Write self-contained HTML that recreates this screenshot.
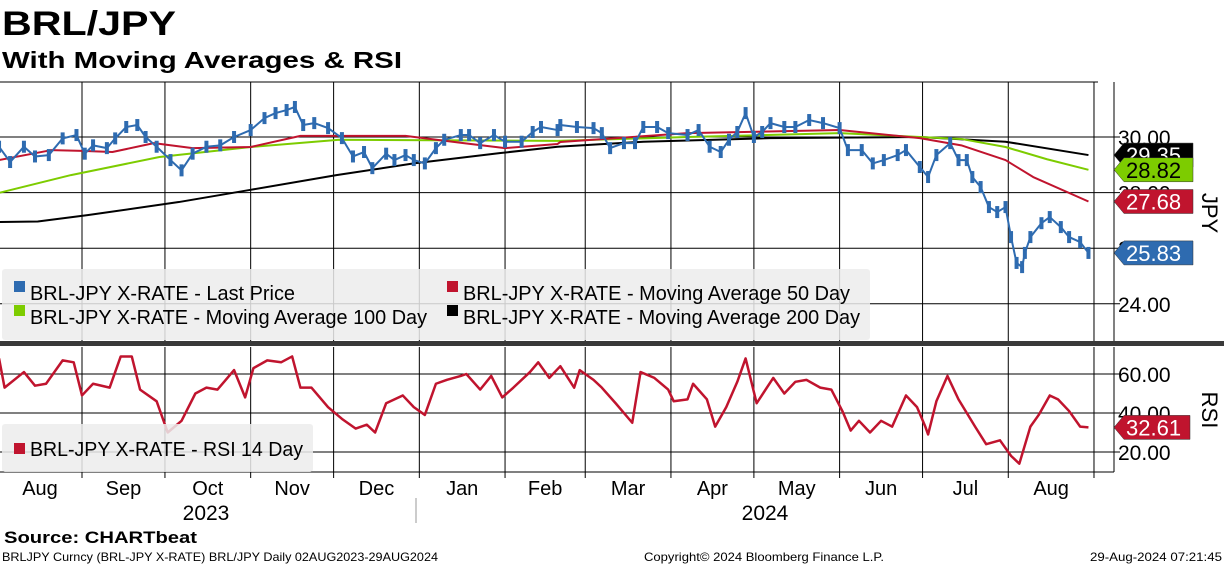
<!DOCTYPE html>
<html><head><meta charset="utf-8"><style>
body{margin:0;background:#fff;font-family:"Liberation Sans",sans-serif;}
#wrap{position:relative;width:1224px;height:566px;overflow:hidden;}
svg text{font-family:"Liberation Sans",sans-serif;}
</style></head><body>
<div id="wrap">
<svg id="svg" width="1224" height="566">
<text x="2" y="35" font-size="34" font-weight="bold" textLength="174" lengthAdjust="spacingAndGlyphs">BRL/JPY</text>
<text x="2" y="68" font-size="23" font-weight="bold" textLength="400" lengthAdjust="spacingAndGlyphs">With Moving Averages &amp; RSI</text>
<g id="grid"></g>
<g id="series"></g>
<g id="axes"></g>
<text x="4" y="543" font-size="17" font-weight="bold" textLength="193" lengthAdjust="spacingAndGlyphs">Source: CHARTbeat</text>
<text x="2" y="561" font-size="12" textLength="436" lengthAdjust="spacingAndGlyphs">BRLJPY Curncy (BRL-JPY X-RATE) BRL/JPY  Daily 02AUG2023-29AUG2024</text>
<text x="644" y="561" font-size="12" textLength="240" lengthAdjust="spacingAndGlyphs">Copyright© 2024 Bloomberg Finance L.P.</text>
<text x="1090" y="561" font-size="12" textLength="132" lengthAdjust="spacingAndGlyphs">29-Aug-2024 07:21:45</text>
</svg>
</div>
<script>
// day index = days since 1 Aug 2023
const priceDays=[1,5,10,14,19,24,29,32,35,40,43,47,51,54,58,63,67,71,76,81,86,92,97,101,105,108,111,115,120,125,129,133,136,141,144,148,151,155,159,162,168,171,175,180,184,190,194,197,203,204,210,216,219,222,227,231,234,239,243,250,254,258,262,265,268,271,274,277,280,285,289,294,299,305,308,313,317,321,326,329,334,337,340,345,348,351,353,356,359,362,365,367,369,371,372,374,378,381,385,388,392,395];
const priceVals=[29.65,29.1,29.65,29.3,29.35,29.95,30.07,29.4,29.7,29.6,29.95,30.36,30.43,30.0,29.65,29.17,28.8,29.4,29.65,29.7,30.0,30.25,30.68,30.86,30.97,31.08,30.43,30.5,30.32,29.96,29.3,29.46,28.88,29.4,29.17,29.35,29.17,29.05,29.6,29.9,30.07,30.07,29.78,30.07,29.83,29.83,30.18,30.36,30.25,30.43,30.36,30.32,30.14,29.6,29.78,29.78,30.36,30.36,30.14,30.07,30.25,29.65,29.46,29.9,30.18,30.86,30.0,30.18,30.5,30.36,30.36,30.61,30.5,30.32,29.53,29.53,29.05,29.17,29.35,29.53,28.92,28.56,29.35,29.78,29.17,29.17,28.56,28.2,27.48,27.3,27.48,26.4,25.47,25.32,25.83,26.4,26.9,27.12,26.76,26.4,26.22,25.83];
const ma50Days=[1,20,31,42,57,71,92,110,148,169,184,203,204,250,305,334,349,365,375,395];
const ma50Vals=[29.17,29.53,29.5,29.46,29.78,29.6,29.64,30.04,30.04,29.78,29.6,29.75,29.82,30.14,30.25,29.96,29.7,29.17,28.56,27.68];
const ma100Days=[1,27,59,92,124,203,250,305,334,349,365,380,395];
const ma100Vals=[27.99,28.63,29.28,29.64,29.9,29.86,30.0,30.14,30.0,29.93,29.64,29.2,28.82];
const ma200Days=[1,15,33,66,92,123,151,182,203,234,280,334,365,395];
const ma200Vals=[26.94,26.96,27.19,27.66,28.1,28.63,29.05,29.42,29.65,29.83,29.96,30.0,29.83,29.35];
const rsiDays=[1,3,10,14,18,24,28,31,35,41,45,49,52,58,62,67,72,76,80,86,90,93,98,103,107,110,114,120,125,130,134,137,141,147,151,155,159,163,168,170,175,179,183,187,193,196,200,204,209,211,216,219,224,230,233,238,243,245,250,252,257,260,264,268,271,275,281,285,289,293,298,302,306,309,312,316,320,324,329,333,336,337,340,344,348,354,358,363,367,370,374,377,381,384,388,392,395];
const rsiVals=[68,53,61,54,55,67,66,49,55,53,69,69,52,46,30,36,50,53,52,62,48,63,67,66,69,53,53,43,37,32,34,30,45,49,43,39,55,57,59,60,52,59,48,53,61,66,58,64,53,62,57,53,45,35,61,58,52,46,47,55,47,33,43,56,68,45,58,50,56,57,53,52,41,31,36,30,36,33,49,43,33,29,46,59,47,33,24,26,18,14,33,39,49,47,41,33,32.61];
const priceTicks=[24,26,28,30];
const rsiTicks=[20,40,60];
const monthNames=['Aug','Sep','Oct','Nov','Dec','Jan','Feb','Mar','Apr','May','Jun','Jul','Aug'];
const monthStartDays=[0,31,61,92,122,153,184,213,244,274,305,335,366,397];
const lastVals={ma200:29.35,ma100:28.82,ma50:27.68,price:25.83,rsi:32.61};

const NS='http://www.w3.org/2000/svg';
const X0=82, PX=2.765;
const x=d=>X0+(d-31)*PX;
const yP=v=>137-(v-30)*27.8;
const yR=v=>374-(v-60)*39/20;
const PT=82,PB=341,RT=347,RB=472,AX=1114;
function mk(tag,attrs,parent){const e=document.createElementNS(NS,tag);for(const k in attrs)e.setAttribute(k,attrs[k]);(parent||document.getElementById('series')).appendChild(e);return e;}
const grid=document.getElementById('grid'),axes=document.getElementById('axes'),ser=document.getElementById('series');

monthStartDays.forEach((d,i)=>{
  if(i===0)return;
  const xx=x(d);
  if(xx>AX)return;
  const l=mk('line',{x1:xx,x2:xx,y1:PT,y2:PB,stroke:'#000','stroke-width':1},grid);
  
  
  const l2=mk('line',{x1:xx,x2:xx,y1:RT,y2:RB+6,stroke:'#000','stroke-width':1},grid);
  
  
});
mk('line',{x1:0,x2:1098,y1:PT,y2:PT,stroke:'#000'},grid);
priceTicks.forEach(v=>{
  const l=mk('line',{x1:0,x2:AX+6,y1:yP(v),y2:yP(v),stroke:'#000'},grid);
  
  
  const t=mk('text',{x:AX+4,y:yP(v)+8,'font-size':21},axes);
  t.textContent=v.toFixed(2);
  
  
});
rsiTicks.forEach(v=>{
  const l=mk('line',{x1:0,x2:AX+6,y1:yR(v),y2:yR(v),stroke:'#000'},grid);
  
  
  const t=mk('text',{x:AX+4,y:yR(v)+8,'font-size':21},axes);
  t.textContent=v.toFixed(2);
  
  
});
mk('line',{x1:AX,x2:AX,y1:PT,y2:PB,stroke:'#000'},axes);
mk('line',{x1:AX,x2:AX,y1:RT,y2:RB,stroke:'#000'},axes);
mk('line',{x1:0,x2:AX,y1:RB,y2:RB,stroke:'#000'},axes);
mk('rect',{x:0,y:341,width:1224,height:5,fill:'#3a3a3a'},axes);
mk('line',{x1:416,x2:416,y1:498,y2:523,stroke:'#999'},axes);

monthNames.forEach((m,i)=>{
  const xc=(x(monthStartDays[i])+Math.min(x(monthStartDays[i+1]),1098))/2;
  const t=mk('text',{x:Math.max(xc,40),y:495,'font-size':20,'text-anchor':'middle'},axes);
  t.textContent=m;
  
  
});
[['2023',206],['2024',765]].forEach(a=>{
  const t=mk('text',{x:a[1],y:520,'font-size':21,'text-anchor':'middle'},axes);
  t.textContent=a[0];
  
  
});

function line(days,vals,yf,color,w,name){
  const p=mk('polyline',{points:days.map((d,i)=>x(d)+','+yf(vals[i])).join(' '),fill:'none',stroke:color,'stroke-width':w,'stroke-linejoin':'round'});
  
  
}
line(ma200Days,ma200Vals,yP,'#000',2,'ma200-line');
line(ma100Days,ma100Vals,yP,'#7dcc00',2,'ma100-line');
line(ma50Days,ma50Vals,yP,'#c0142e',2,'ma50-line');
line(priceDays,priceVals,yP,'#2e6bb0',2,'price-line');
priceDays.forEach((d,i)=>{
  const r=mk('rect',{x:x(d)-2,y:yP(priceVals[i])-6,width:4,height:12,fill:'#2e6bb0'});
  
  
});
line(rsiDays,rsiVals,yR,'#c0142e',2.5,'rsi-line');

mk('rect',{x:2,y:269,width:868,height:71,fill:'#ececec','fill-opacity':0.85,rx:3},axes);
const leg=[['#2e6bb0','BRL-JPY X-RATE - Last Price',14,294,265],['#c0142e','BRL-JPY X-RATE - Moving Average 50 Day',447,294,387],['#7dcc00','BRL-JPY X-RATE - Moving Average 100 Day',14,318,397],['#000','BRL-JPY X-RATE - Moving Average 200 Day',447,318,397]];
leg.forEach(l=>{
  const g=mk('g',{},axes);
  
  
  mk('rect',{x:l[2],y:l[3]-13,width:11,height:11,fill:l[0]},g);
  const t=mk('text',{x:l[2]+16,y:l[3]+6,'font-size':20,textLength:l[4],lengthAdjust:'spacingAndGlyphs'},g);t.textContent=l[1];
});
mk('rect',{x:2,y:424,width:311,height:48,fill:'#ececec','fill-opacity':0.85,rx:3},axes);
const rg=mk('g',{},axes);


mk('rect',{x:14,y:443,width:11,height:11,fill:'#c0142e'},rg);
const rt=mk('text',{x:30,y:456,'font-size':20,textLength:273,lengthAdjust:'spacingAndGlyphs'},rg);rt.textContent='BRL-JPY X-RATE - RSI 14 Day';

function tag(v,yf,bg,fg,name,w){
  const y=yf(v);
  const g=mk('g',{},axes);
  
  
  const x1=AX,x2=AX+(w||79);
  mk('polygon',{points:`${x1},${y} ${x1+10},${y-12} ${x2},${y-12} ${x2},${y+12} ${x1+10},${y+12}`,fill:bg,stroke:'#333','stroke-width':0.5},g);
  const t=mk('text',{x:x1+12,y:y+8,'font-size':22,fill:fg},g);t.textContent=v.toFixed(2);
}
tag(lastVals.ma200,yP,'#000','#fff','ma200-value-tag');
tag(lastVals.ma100,yP,'#7dcc00','#000','ma100-value-tag');
tag(lastVals.ma50,yP,'#c0142e','#fff','ma50-value-tag');
tag(lastVals.price,yP,'#2e6bb0','#fff','price-value-tag');
tag(lastVals.rsi,yR,'#c0142e','#fff','rsi-value-tag',76);

const j=mk('text',{x:1202,y:213,'font-size':22,'text-anchor':'middle',transform:'rotate(90 1202 213)'},axes);
j.textContent='JPY';


const r=mk('text',{x:1202,y:410,'font-size':22,'text-anchor':'middle',transform:'rotate(90 1202 410)'},axes);
r.textContent='RSI';


</script>
</body></html>
